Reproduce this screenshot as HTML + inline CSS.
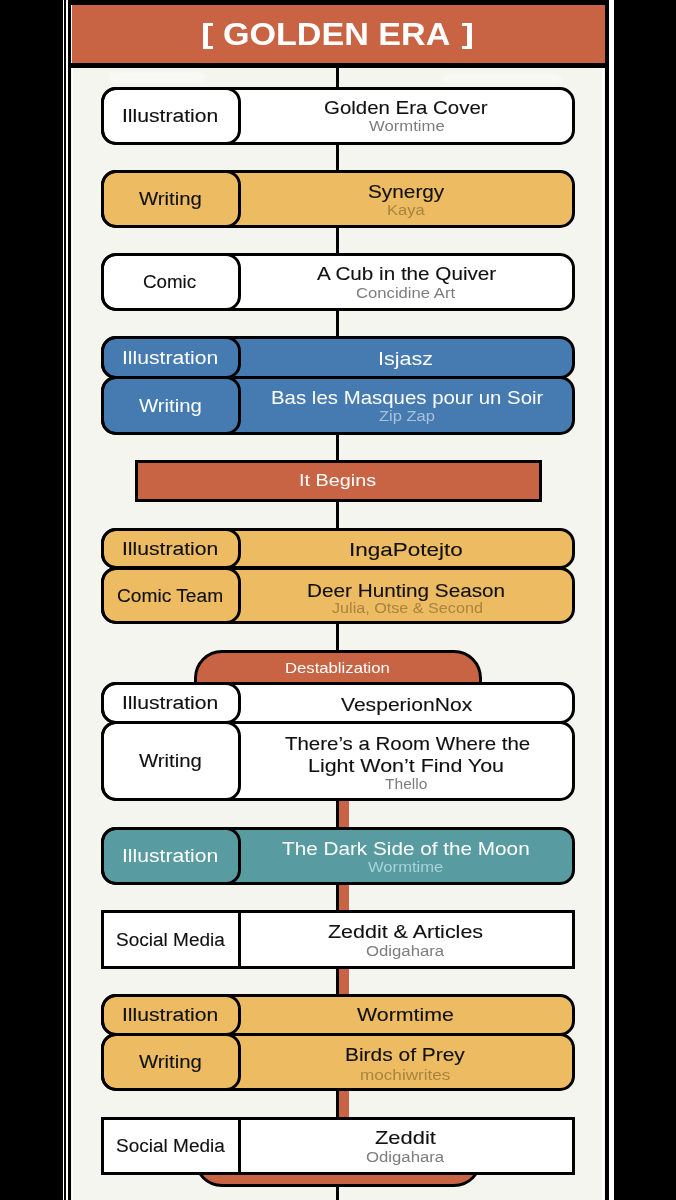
<!DOCTYPE html>
<html><head><meta charset="utf-8"><style>
html,body{margin:0;padding:0;width:676px;height:1200px;overflow:hidden;background:#000}
.card{position:absolute;left:68px;top:-20px;width:541px;height:1260px;box-sizing:border-box;border:solid #000;border-width:4px 4.5px 4px 3.5px;background:#F5F5F0}
.wl{position:absolute;top:0;height:1200px;background:#fff}
.hdr{position:absolute;left:71.5px;top:5px;width:533px;height:57.7px;background:#C86444}
.hbar{position:absolute;left:68px;top:62.7px;width:541px;height:5px;background:#000}
.line{position:absolute;left:336px;width:3.2px;background:#000}
.oline{position:absolute;left:339.3px;width:9.3px;background:#C86444}
.row{position:absolute;left:101px;width:474px;box-sizing:border-box;border:3px solid #000;overflow:visible}
.lab{position:absolute;left:-3px;top:-3px;bottom:-3px;width:139.5px;box-sizing:border-box;border:3px solid #000}
.box{position:absolute;box-sizing:border-box;border:3px solid #000;background:#C86444}
.t{position:absolute;font-family:"Liberation Sans", sans-serif;white-space:nowrap;transform-origin:0 0;will-change:transform}
</style></head><body>
<div class="wl" style="left:62.7px;width:1.5px"></div>
<div class="wl" style="left:65.8px;width:1.8px"></div>
<div class="wl" style="left:608.8px;width:4.8px"></div>
<div class="card"></div>
<div style="position:absolute;left:71.5px;top:67.7px;width:1.8px;height:1140px;background:#fff"></div>
<div style="position:absolute;left:601.8px;top:67.7px;width:1.8px;height:1140px;background:#fff"></div>
<div style="position:absolute;left:110px;top:72px;width:95px;height:10px;border-radius:5px;background:#fff;opacity:.35;filter:blur(1.5px)"></div>
<div style="position:absolute;left:444px;top:74px;width:117px;height:9px;border-radius:5px;background:#fff;opacity:.35;filter:blur(1.5px)"></div>
<div class="hdr"></div>
<div style="position:absolute;left:68px;top:0;width:541px;height:5px;background:#000"></div>
<div class="hbar"></div>
<div style="position:absolute;left:203px;top:22.8px;width:9.7px;height:26.4px;box-sizing:border-box;border:solid #fff;border-width:3.6px 0 3.6px 5.2px"></div>
<div style="position:absolute;left:462.4px;top:22.8px;width:9.6px;height:26.4px;box-sizing:border-box;border:solid #fff;border-width:3.6px 5.2px 3.6px 0"></div>
<div class="line" style="top:67px;height:1133px"></div>
<div class="oline" style="top:700px;height:480px"></div>
<div class="box" style="left:135px;top:459.5px;width:406.5px;height:42.5px"></div>
<div class="box" style="left:194px;top:650px;width:288px;height:60px;border-radius:28px 28px 0 0"></div>
<div class="box" style="left:194px;top:1120px;width:288px;height:66.6px;border-radius:0 0 28px 28px"></div>
<div class="row" style="top:87px;height:58px;background:#FFFFFF;border-radius:15px"><div class="lab" style="border-radius:15px"></div></div><div class="row" style="top:170px;height:58px;background:#ECBB62;border-radius:15px"><div class="lab" style="border-radius:15px"></div></div><div class="row" style="top:253px;height:58px;background:#FFFFFF;border-radius:15px"><div class="lab" style="border-radius:15px"></div></div><div class="row" style="top:336px;height:43px;background:#467BB1;border-radius:15px"><div class="lab" style="border-radius:15px"></div></div><div class="row" style="top:376px;height:58.5px;background:#467BB1;border-radius:15px"><div class="lab" style="border-radius:15px"></div></div><div class="row" style="top:527.5px;height:41.5px;background:#ECBB62;border-radius:15px"><div class="lab" style="border-radius:15px"></div></div><div class="row" style="top:566.5px;height:57.5px;background:#ECBB62;border-radius:15px"><div class="lab" style="border-radius:15px"></div></div><div class="row" style="top:682px;height:41.7px;background:#FFFFFF;border-radius:15px"><div class="lab" style="border-radius:15px"></div></div><div class="row" style="top:720.7px;height:80.3px;background:#FFFFFF;border-radius:15px"><div class="lab" style="border-radius:15px"></div></div><div class="row" style="top:827px;height:58px;background:#589CA2;border-radius:15px"><div class="lab" style="border-radius:15px"></div></div><div class="row" style="top:910px;height:58.5px;background:#FFFFFF;border-radius:0px"><div class="lab" style="border-radius:0px"></div></div><div class="row" style="top:994px;height:42px;background:#ECBB62;border-radius:15px"><div class="lab" style="border-radius:15px"></div></div><div class="row" style="top:1033px;height:58px;background:#ECBB62;border-radius:15px"><div class="lab" style="border-radius:15px"></div></div><div class="row" style="top:1117px;height:57.8px;background:#FFFFFF;border-radius:0px"><div class="lab" style="border-radius:0px"></div></div>
<div class="t" style="left:223.20px;top:18.95px;font-size:31px;line-height:31px;font-weight:700;color:#FFFFFF;transform:scaleX(1.0995)">GOLDEN ERA</div><div class="t" style="left:324.42px;top:97.75px;font-size:19px;line-height:19px;font-weight:400;color:#111;transform:scaleX(1.0755);-webkit-text-stroke:0.12px currentColor">Golden Era Cover</div><div class="t" style="left:369.00px;top:118.42px;font-size:15.5px;line-height:15.5px;font-weight:400;color:#7D7D7D;transform:scaleX(1.0757)">Wormtime</div><div class="t" style="left:367.51px;top:181.55px;font-size:19px;line-height:19px;font-weight:400;color:#111;transform:scaleX(1.0942);-webkit-text-stroke:0.12px currentColor">Synergy</div><div class="t" style="left:387.14px;top:202.32px;font-size:15.5px;line-height:15.5px;font-weight:400;color:#A98340;transform:scaleX(1.0629)">Kaya</div><div class="t" style="left:317.10px;top:264.35px;font-size:19px;line-height:19px;font-weight:400;color:#111;transform:scaleX(1.0879);-webkit-text-stroke:0.12px currentColor">A Cub in the Quiver</div><div class="t" style="left:356.43px;top:285.32px;font-size:15.5px;line-height:15.5px;font-weight:400;color:#7D7D7D;transform:scaleX(1.0747)">Concidine Art</div><div class="t" style="left:378.13px;top:348.75px;font-size:19px;line-height:19px;font-weight:400;color:#FFFFFF;transform:scaleX(1.1326)">Isjasz</div><div class="t" style="left:270.83px;top:387.85px;font-size:19px;line-height:19px;font-weight:400;color:#FFFFFF;transform:scaleX(1.0746)">Bas les Masques pour un Soir</div><div class="t" style="left:379.00px;top:407.62px;font-size:15.5px;line-height:15.5px;font-weight:400;color:#A9C0DA;transform:scaleX(1.0654)">Zip Zap</div><div class="t" style="left:299.24px;top:471.95px;font-size:17px;line-height:17px;font-weight:400;color:#FFFFFF;transform:scaleX(1.1646)">It Begins</div><div class="t" style="left:348.63px;top:540.45px;font-size:19px;line-height:19px;font-weight:400;color:#111;transform:scaleX(1.1828);-webkit-text-stroke:0.12px currentColor">IngaPotejto</div><div class="t" style="left:307.31px;top:580.55px;font-size:19px;line-height:19px;font-weight:400;color:#111;transform:scaleX(1.0906);-webkit-text-stroke:0.12px currentColor">Deer Hunting Season</div><div class="t" style="left:331.50px;top:600.23px;font-size:15.5px;line-height:15.5px;font-weight:400;color:#A98340;transform:scaleX(1.0424)">Julia, Otse &amp; Second</div><div class="t" style="left:285.12px;top:659.66px;font-size:15.4px;line-height:15.4px;font-weight:400;color:#FFFFFF;transform:scaleX(1.0842)">Destablization</div><div class="t" style="left:341.30px;top:694.55px;font-size:19px;line-height:19px;font-weight:400;color:#111;transform:scaleX(1.1093);-webkit-text-stroke:0.12px currentColor">VesperionNox</div><div class="t" style="left:284.50px;top:734.35px;font-size:19px;line-height:19px;font-weight:400;color:#111;transform:scaleX(1.0767);-webkit-text-stroke:0.12px currentColor">There’s a Room Where the</div><div class="t" style="left:308.27px;top:755.85px;font-size:19px;line-height:19px;font-weight:400;color:#111;transform:scaleX(1.1267);-webkit-text-stroke:0.12px currentColor">Light Won’t Find You</div><div class="t" style="left:385.20px;top:776.23px;font-size:15.5px;line-height:15.5px;font-weight:400;color:#7D7D7D;transform:scaleX(1.0048)">Thello</div><div class="t" style="left:282.40px;top:838.75px;font-size:19px;line-height:19px;font-weight:400;color:#FFFFFF;transform:scaleX(1.0907)">The Dark Side of the Moon</div><div class="t" style="left:368.20px;top:859.12px;font-size:15.5px;line-height:15.5px;font-weight:400;color:#A8D3D6;transform:scaleX(1.0714)">Wormtime</div><div class="t" style="left:328.17px;top:922.25px;font-size:19px;line-height:19px;font-weight:400;color:#111;transform:scaleX(1.1294);-webkit-text-stroke:0.12px currentColor">Zeddit &amp; Articles</div><div class="t" style="left:366.32px;top:943.12px;font-size:15.5px;line-height:15.5px;font-weight:400;color:#7D7D7D;transform:scaleX(1.0792)">Odigahara</div><div class="t" style="left:357.30px;top:1005.45px;font-size:19px;line-height:19px;font-weight:400;color:#111;transform:scaleX(1.1233);-webkit-text-stroke:0.12px currentColor">Wormtime</div><div class="t" style="left:345.00px;top:1045.45px;font-size:19px;line-height:19px;font-weight:400;color:#111;transform:scaleX(1.1019);-webkit-text-stroke:0.12px currentColor">Birds of Prey</div><div class="t" style="left:360.19px;top:1066.53px;font-size:15.5px;line-height:15.5px;font-weight:400;color:#A98340;transform:scaleX(1.1050)">mochiwrites</div><div class="t" style="left:374.75px;top:1128.45px;font-size:19px;line-height:19px;font-weight:400;color:#111;transform:scaleX(1.1519);-webkit-text-stroke:0.12px currentColor">Zeddit</div><div class="t" style="left:365.52px;top:1148.73px;font-size:15.5px;line-height:15.5px;font-weight:400;color:#7D7D7D;transform:scaleX(1.0792)">Odigahara</div><div class="t" style="left:121.80px;top:107.41px;font-size:18px;line-height:18px;font-weight:400;color:#111;transform:scaleX(1.1734);-webkit-text-stroke:0.12px currentColor">Illustration</div><div class="t" style="left:139.45px;top:190.41px;font-size:18px;line-height:18px;font-weight:400;color:#111;transform:scaleX(1.1291);-webkit-text-stroke:0.12px currentColor">Writing</div><div class="t" style="left:143.41px;top:273.41px;font-size:18px;line-height:18px;font-weight:400;color:#111;transform:scaleX(1.0420);-webkit-text-stroke:0.12px currentColor">Comic</div><div class="t" style="left:121.80px;top:348.91px;font-size:18px;line-height:18px;font-weight:400;color:#FFFFFF;transform:scaleX(1.1734)">Illustration</div><div class="t" style="left:139.45px;top:396.66px;font-size:18px;line-height:18px;font-weight:400;color:#FFFFFF;transform:scaleX(1.1291)">Writing</div><div class="t" style="left:121.80px;top:539.66px;font-size:18px;line-height:18px;font-weight:400;color:#111;transform:scaleX(1.1734);-webkit-text-stroke:0.12px currentColor">Illustration</div><div class="t" style="left:117.29px;top:586.66px;font-size:18px;line-height:18px;font-weight:400;color:#111;transform:scaleX(1.0643);-webkit-text-stroke:0.12px currentColor">Comic Team</div><div class="t" style="left:121.80px;top:694.26px;font-size:18px;line-height:18px;font-weight:400;color:#111;transform:scaleX(1.1734);-webkit-text-stroke:0.12px currentColor">Illustration</div><div class="t" style="left:139.45px;top:752.26px;font-size:18px;line-height:18px;font-weight:400;color:#111;transform:scaleX(1.1291);-webkit-text-stroke:0.12px currentColor">Writing</div><div class="t" style="left:121.80px;top:847.41px;font-size:18px;line-height:18px;font-weight:400;color:#FFFFFF;transform:scaleX(1.1734)">Illustration</div><div class="t" style="left:115.59px;top:930.66px;font-size:18px;line-height:18px;font-weight:400;color:#111;transform:scaleX(1.0559);-webkit-text-stroke:0.12px currentColor">Social Media</div><div class="t" style="left:121.80px;top:1006.41px;font-size:18px;line-height:18px;font-weight:400;color:#111;transform:scaleX(1.1734);-webkit-text-stroke:0.12px currentColor">Illustration</div><div class="t" style="left:139.45px;top:1053.41px;font-size:18px;line-height:18px;font-weight:400;color:#111;transform:scaleX(1.1291);-webkit-text-stroke:0.12px currentColor">Writing</div><div class="t" style="left:115.59px;top:1137.31px;font-size:18px;line-height:18px;font-weight:400;color:#111;transform:scaleX(1.0559);-webkit-text-stroke:0.12px currentColor">Social Media</div>
</body></html>
